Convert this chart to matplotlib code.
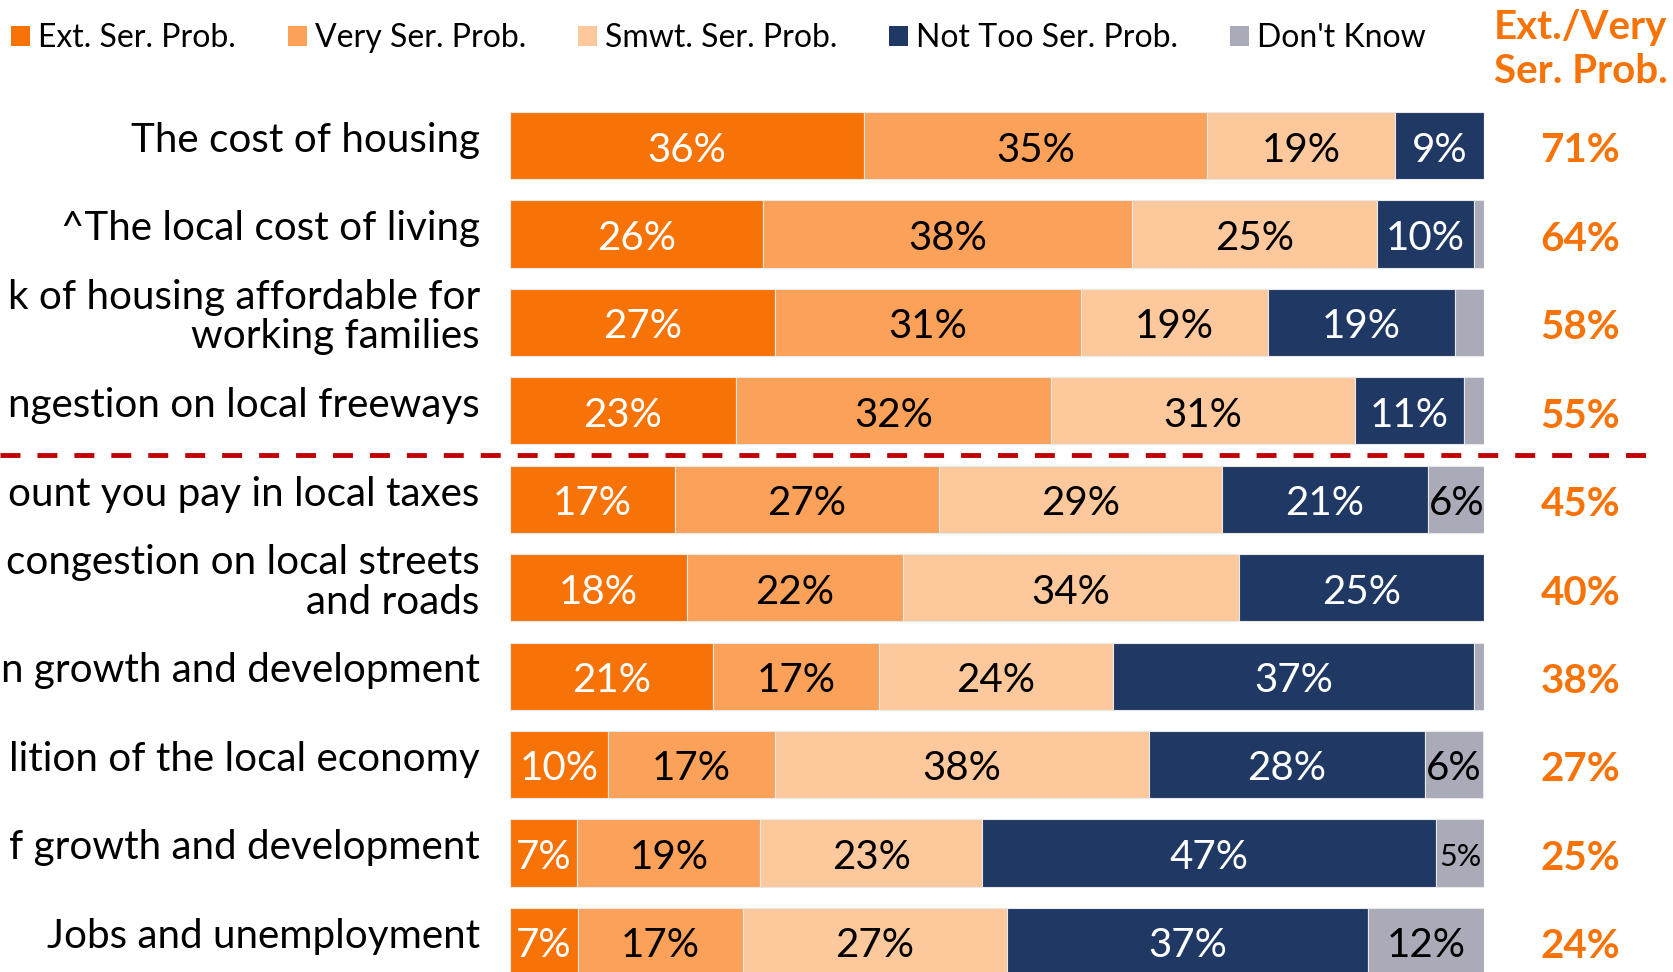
import matplotlib.pyplot as plt
from matplotlib.patches import Patch

plt.rcParams['font.family'] = ['Lato', 'DejaVu Sans']

# issues (left labels are cut by the image edge, kept as seen)
issues = ["The cost of housing",
          "^The local cost of living",
          "k of housing affordable for\nworking families",
          "ngestion on local freeways",
          "ount you pay in local taxes",
          "congestion on local streets\nand roads",
          "n growth and development",
          "lition of the local economy",
          "f growth and development",
          "Jobs and unemployment"]

series = ["Ext. Ser. Prob.", "Very Ser. Prob.", "Smwt. Ser. Prob.",
          "Not Too Ser. Prob.", "Don't Know"]
ext = [36.3, 26.0, 27.2, 23.2, 16.9, 18.2, 20.8, 10.1, 6.9, 7.0]
very = [35.3, 37.9, 31.4, 32.3, 27.1, 22.1, 17.1, 17.1, 18.8, 16.9]
smwt = [19.3, 25.1, 19.2, 31.3, 29.1, 34.5, 24.0, 38.4, 22.8, 27.1]
not_too = [9.1, 10.0, 19.2, 11.1, 21.1, 25.2, 37.1, 28.3, 46.6, 37.1]
dont_know = [0.0, 1.0, 3.0, 2.1, 5.9, 0.0, 1.0, 6.0, 4.9, 12.0]
net = [71, 64, 58, 55, 45, 40, 38, 27, 25, 24]

colors = ['#F77307', '#FBA159', '#FDC89B', '#1F3864', '#AAABB8']
txt_colors = ['white', 'black', 'black', 'white', 'black']
orange = '#F77307'

fig = plt.figure(figsize=(16.74, 9.72), dpi=100)
ax = fig.add_axes([510 / 1674, 0, 974 / 1674, 1])

y = list(range(len(issues)))
left = [0.0] * len(issues)
handles = []
for vals, name, col, tcol in zip([ext, very, smwt, not_too, dont_know],
                                 series, colors, txt_colors):
    ax.barh(y, vals, left=left, height=0.76, color=col,
            edgecolor='#E8E8E8', linewidth=0.8)
    for yi, l, v in zip(y, left, vals):
        if v >= 4.5:
            ax.text(l + v / 2, yi + 0.05, f"{round(v)}%", ha='center',
                    va='center', color=tcol,
                    fontsize=29 if v >= 5.5 else 22)
    left = [l + v for l, v in zip(left, vals)]
    handles.append(Patch(facecolor=col, label=name))

ax.set_xlim(0, 100)
ax.set_ylim(9.347, -1.648)
ax.set_yticks([])
ax.set_xticks([])
for s in ax.spines.values():
    s.set_visible(False)

# issue labels
for yi, lab in zip(y, issues):
    ax.text(-3.1, yi - 0.06, lab, ha='right', va='center', fontsize=29.1,
            linespacing=1.08, clip_on=False)

# net extremely/very serious column
for yi, v in zip(y, net):
    ax.text(109.9, yi + 0.06, f"{v}%", ha='center', va='center',
            fontsize=29, fontweight='bold', color=orange, clip_on=False)
ax.text(109.9, -1.09, "Ext./Very\nSer. Prob.", ha='center', va='center',
        fontsize=29, fontweight='bold', color=orange, linespacing=1.25,
        clip_on=False)

# divider between top four and the rest
ax.plot([-52.4, 118.1], [3.5, 3.5], color='#C00000', lw=3.5,
        dashes=(4.1, 3.5), clip_on=False)

fig.legend(handles=handles, loc='center left', bbox_to_anchor=(0.0066, 0.961),
           ncol=5, frameon=False, fontsize=23, handlelength=0.6,
           handleheight=0.6, handletextpad=0.25, columnspacing=1.62,
           borderpad=0, borderaxespad=0)

fig.savefig('out.png', dpi=100)
